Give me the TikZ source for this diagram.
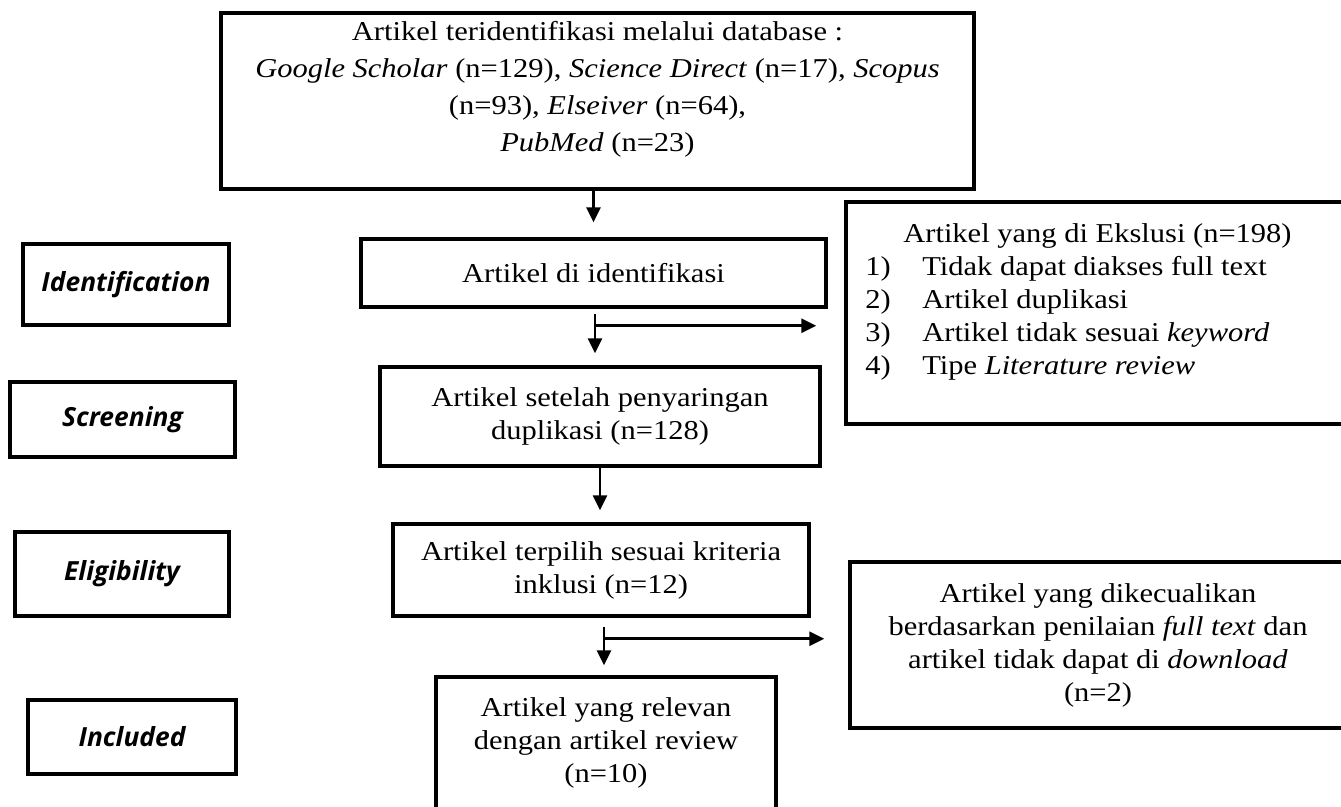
\documentclass[tikz,border=0pt]{standalone}
\usepackage{fontspec}
\setmainfont{Liberation Serif}[FakeStretch=1.12]
\newfontfamily\stagefont{Open Sans}
\usetikzlibrary{arrows.meta,calc}
\tikzset{
	box/.style={draw, line width=2pt, inner sep=0pt, align=center, font=\fontsize{15.5}{18.8}\selectfont},
	txt/.style={inner sep=0pt, align=center, font=\fontsize{15.5}{18.8}\selectfont},
	stage/.style={draw, line width=2pt, inner sep=0pt, font=\stagefont\bfseries\itshape\fontsize{15}{17}\selectfont},
	arr/.style={-{Triangle[width=0.28cm,length=0.3cm]}, line width=1.6pt},
}
\begin{document}
\begin{tikzpicture}[x=0.02cm, y=-0.02cm]
				\useasboundingbox (0,0) rectangle (1341,807);
				\clip (0,0) rectangle (1341,807);
				% kotak database
				\node[box, minimum width=15.06cm, minimum height=3.52cm] (db) at (597.5,101) {};
				\node[txt, font=\fontsize{15.5}{21}\selectfont] (dbtxt) at ($(db.center)+(0,-12)$) {Artikel teridentifikasi melalui database :\\ \textit{Google Scholar} (n=129), \textit{Science Direct} (n=17), \textit{Scopus}\\ (n=93), \textit{Elseiver} (n=64),\\ \textit{PubMed} (n=23)};
				% tahap kiri
				\node[stage, minimum width=4.12cm, minimum height=1.62cm] (idf) at (126,284.5) {Identification};
				\node[stage, minimum width=4.5cm, minimum height=1.5cm] (scr) at (122.5,419.5) {Screening};
				\node[stage, minimum width=4.28cm, minimum height=1.68cm] (elig) at (122,574) {Eligibility};
				\node[stage, minimum width=4.16cm, minimum height=1.48cm] (incl) at (132,737) {Included};
				% kotak tengah
				\node[box, minimum width=9.3cm, minimum height=1.36cm] (ident) at (593.5,273) {Artikel di identifikasi};
				\node[box, minimum width=8.8cm, minimum height=1.98cm] (setelah) at (600,416.5) {Artikel setelah penyaringan\\ duplikasi (n=128)};
				\node[box, minimum width=8.32cm, minimum height=1.84cm] (pilih) at (601,570) {Artikel terpilih sesuai kriteria\\ inklusi (n=12)};
				\node[box, minimum width=6.8cm, minimum height=2.64cm] (relevan) at (606,743) {Artikel yang relevan\\ dengan artikel review\\ (n=10)};
				% kotak eksklusi
				\node[box, minimum width=10cm, minimum height=4.44cm] (excl) at (1096,313) {};
				\node[txt, anchor=north west] (excltxt) at (865,219) {\begin{tabular}{@{}p{1.14cm}@{}l@{}}
						\multicolumn{2}{@{}l@{}}{\hspace*{0.76cm}Artikel yang di Ekslusi (n=198)}\\
						1) & Tidak dapat diakses full text\\
						2) & Artikel duplikasi\\
						3) & Artikel tidak sesuai \textit{keyword}\\
						4) & Tipe \textit{Literature review}
					\end{tabular}};
				\node[box, minimum width=9.92cm, minimum height=3.32cm] (kecuali) at (1098,645) {Artikel yang dikecualikan\\ berdasarkan penilaian \textit{full text} dan\\ artikel tidak dapat di \textit{download}\\ (n=2)};
				% panah
				\draw[arr, shorten >=0.3cm] (ident.north |- db.south) -- (ident.north);
				\coordinate (c1) at ($(ident.south)+(1.5,5)$);
				\coordinate (h1) at ($(c1)+(0,12)$);
				\draw[arr, shorten >=0.24cm] (c1) -- (c1 |- setelah.north);
				\draw[arr, shorten >=0.56cm] (h1) -- (h1 -| excl.west);
				\draw[arr, shorten >=0.24cm] (setelah.south) -- (setelah.south |- pilih.north);
				\coordinate (c2) at ($(pilih.south)+(3,9)$);
				\coordinate (h2) at ($(c2)+(0,12)$);
				\draw[arr, shorten >=0.2cm] (c2) -- (c2 |- relevan.north);
				\draw[arr, shorten >=0.48cm] (h2) -- (h2 -| kecuali.west);
			\end{tikzpicture}
\end{document}
